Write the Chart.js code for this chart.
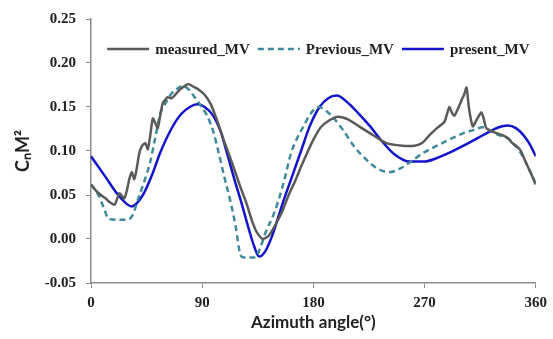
<!DOCTYPE html>
<html lang="en">
<head>
    <meta charset="UTF-8">
    <title>CnM2 vs azimuth</title>
    <script src="https://cdn.jsdelivr.net/npm/chart.js"></script>
    <style>
        body { margin: 0; background: #fff; }
        #chart { display: block; }
    </style>
</head>
<body>
    <canvas id="chart" width="553" height="339"></canvas>

    <script>
    // axis ticks
    const xTicks = [0, 90, 180, 270, 360];
    const yTicks = [-0.05, 0, 0.05, 0.10, 0.15, 0.20, 0.25];

    // measured_MV (noisy)
    const measuredAngle = [0, 4, 8, 12, 15, 19, 21, 23, 25, 27, 29, 31, 33, 35, 37, 39, 41, 44, 46, 48, 50, 52, 54, 56, 58, 60, 62, 65, 67, 70, 73, 76, 79, 83, 87, 92, 97, 102, 108, 112, 117, 122, 126, 130, 134, 139, 144, 150, 155, 160, 165, 170, 175, 180, 186, 193, 200, 208, 217, 226, 239, 252, 262, 268, 274, 280, 286, 288, 290, 292, 294, 297, 300, 302, 304, 306, 309, 312, 316, 318, 320, 325, 333, 338, 341, 345, 348, 352, 356, 360];
    const measuredValue = [0.062, 0.055, 0.050, 0.046, 0.042, 0.039, 0.045, 0.052, 0.049, 0.046, 0.055, 0.068, 0.076, 0.068, 0.080, 0.097, 0.105, 0.109, 0.102, 0.118, 0.137, 0.132, 0.126, 0.140, 0.154, 0.158, 0.161, 0.160, 0.162, 0.167, 0.171, 0.174, 0.176, 0.173, 0.170, 0.164, 0.153, 0.135, 0.110, 0.095, 0.075, 0.055, 0.040, 0.022, 0.008, 0.000, 0.004, 0.018, 0.032, 0.050, 0.065, 0.082, 0.098, 0.113, 0.127, 0.135, 0.139, 0.136, 0.128, 0.120, 0.109, 0.106, 0.106, 0.109, 0.118, 0.126, 0.133, 0.141, 0.150, 0.144, 0.140, 0.148, 0.158, 0.164, 0.172, 0.148, 0.128, 0.135, 0.144, 0.136, 0.126, 0.122, 0.118, 0.114, 0.109, 0.105, 0.100, 0.087, 0.075, 0.062];

    // Previous_MV
    const previousAngle = [0, 6, 11, 14, 20, 30, 34, 38, 43, 48, 52, 56, 61, 65, 70, 74, 79, 84, 89, 94, 99, 103, 108, 113, 117, 121, 124, 133, 137, 142, 147, 152, 157, 162, 167, 172, 178, 184, 190, 196, 204, 213, 223, 232, 242, 250, 258, 268, 280, 290, 301, 310, 317, 322, 330, 337, 342, 347, 352, 356, 360];
    const previousValue = [0.062, 0.050, 0.033, 0.023, 0.022, 0.022, 0.028, 0.045, 0.065, 0.088, 0.115, 0.142, 0.156, 0.165, 0.171, 0.174, 0.170, 0.161, 0.151, 0.140, 0.122, 0.100, 0.070, 0.042, 0.015, -0.018, -0.021, -0.021, -0.010, 0.010, 0.025, 0.045, 0.070, 0.098, 0.115, 0.128, 0.143, 0.150, 0.146, 0.138, 0.124, 0.105, 0.090, 0.080, 0.076, 0.080, 0.087, 0.097, 0.106, 0.113, 0.120, 0.124, 0.127, 0.124, 0.118, 0.115, 0.108, 0.100, 0.087, 0.075, 0.063];

    // present_MV
    const presentAngle = [0, 12, 22, 33, 42, 50, 56, 65, 73, 80, 86, 92, 99, 105, 110, 116, 122, 128, 132, 136, 141, 147, 155, 163, 170, 177, 185, 192, 199, 207, 217, 226, 235, 245, 258, 270, 280, 293, 307, 320, 330, 337, 344, 350, 355, 360];
    const presentValue = [0.094, 0.070, 0.050, 0.037, 0.050, 0.075, 0.098, 0.125, 0.142, 0.150, 0.153, 0.150, 0.140, 0.122, 0.098, 0.068, 0.040, 0.010, -0.008, -0.020, -0.014, 0.005, 0.040, 0.072, 0.100, 0.128, 0.150, 0.160, 0.163, 0.156, 0.142, 0.128, 0.112, 0.097, 0.088, 0.088, 0.092, 0.100, 0.110, 0.120, 0.127, 0.129, 0.126, 0.118, 0.108, 0.094];

    const toPoints = (xs, ys) => xs.map((x, i) => ({ x: x, y: ys[i] }));

    const axisColor = '#8c8c8c';
    const tickFont = { family: "'Liberation Serif', serif", size: 15, weight: 'bold' };

    // one-row legend drawn inside the plot, near the top
    const insideLegend = {
      id: 'insideLegend',
      afterDatasetsDraw(chart) {
        const ctx = chart.ctx;
        const area = chart.chartArea;
        const lineLen = 42, gapText = 6, gapItem = 8;
        const y = area.top + 30;
        ctx.save();
        ctx.font = "bold 15px 'Liberation Serif', serif";
        ctx.textBaseline = 'middle';
        const items = chart.data.datasets.map(ds => ({ ds: ds, w: ctx.measureText(ds.label).width }));
        let total = 0;
        items.forEach((it, i) => { total += lineLen + gapText + it.w + (i ? gapItem : 0); });
        let x = (area.left + area.right) / 2 + 5 - total / 2;
        items.forEach(it => {
          ctx.beginPath();
          ctx.strokeStyle = it.ds.borderColor;
          ctx.lineWidth = it.ds.borderWidth;
          ctx.setLineDash(it.ds.borderDash || []);
          ctx.moveTo(x, y);
          ctx.lineTo(x + lineLen, y);
          ctx.stroke();
          ctx.setLineDash([]);
          ctx.fillStyle = '#222';
          ctx.fillText(it.ds.label, x + lineLen + gapText, y + 1);
          x += lineLen + gapText + it.w + gapItem;
        });
        ctx.restore();
      }
    };

    new Chart(document.getElementById('chart'), {
      type: 'line',
      data: {
        datasets: [
          {
            label: 'measured_MV',
            data: toPoints(measuredAngle, measuredValue),
            borderColor: '#5a5a5a',
            borderWidth: 2.5,
            tension: 0.2
          },
          {
            label: 'Previous_MV',
            data: toPoints(previousAngle, previousValue),
            borderColor: '#3f8a9c',
            borderWidth: 2.5,
            borderDash: [6, 4],
            cubicInterpolationMode: 'monotone'
          },
          {
            label: 'present_MV',
            data: toPoints(presentAngle, presentValue),
            borderColor: '#1414cc',
            borderWidth: 2.5,
            cubicInterpolationMode: 'monotone'
          }
        ]
      },
      options: {
        responsive: false,
        animation: false,
        devicePixelRatio: 1,
        layout: { padding: { top: 13, right: 17, left: 0, bottom: 0 } },
        elements: { point: { radius: 0 } },
        plugins: {
          tooltip: { enabled: false },
          legend: { display: false }
        },
        scales: {
          x: {
            type: 'linear',
            min: 0,
            max: 360,
            afterBuildTicks: scale => { scale.ticks = xTicks.map(v => ({ value: v })); },
            afterFit: scale => { scale.height = 56; },
            border: { color: axisColor, width: 1.5 },
            grid: { drawOnChartArea: false, color: axisColor, tickLength: 5 },
            ticks: { color: '#222', font: tickFont, padding: 6, maxRotation: 0 },
            title: {
              display: true,
              text: 'Azimuth angle(°)',
              color: '#222',
              font: { family: 'Lato, sans-serif', size: 17, weight: 'bold' },
              padding: { top: 0, bottom: 6 }
            }
          },
          y: {
            min: -0.05,
            max: 0.25,
            afterBuildTicks: scale => { scale.ticks = yTicks.map(v => ({ value: v })); },
            afterFit: scale => { scale.width = 91; },
            border: { color: axisColor, width: 1.5 },
            grid: { drawOnChartArea: false, color: axisColor, tickLength: 5 },
            ticks: {
              color: '#222',
              font: tickFont,
              padding: 10,
              callback: v => v.toFixed(2)
            },
            title: {
              display: true,
              text: 'CₙM²',
              color: '#222',
              font: { family: 'Lato, sans-serif', size: 18, weight: 'bold' },
              padding: { top: 12, bottom: 0 }
            }
          }
        }
      },
      plugins: [insideLegend]
    });
    </script>
</body>
</html>
